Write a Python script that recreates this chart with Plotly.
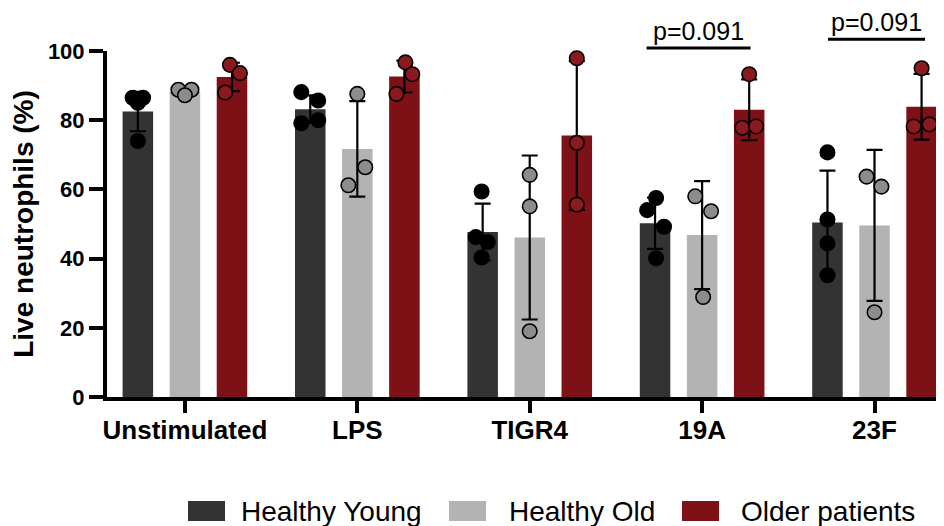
import plotly.graph_objects as go

# ---------------- data ----------------
categories = ["Unstimulated", "LPS", "TIGR4", "19A", "23F"]
group_names = ["Healthy Young", "Healthy Old", "Older patients"]

young_mean = [82.5, 83.2, 47.7, 50.2, 50.4]
young_sd = [5.7, 4.0, 8.2, 7.4, 15.0]
old_mean = [88.2, 71.7, 46.1, 46.8, 49.6]
old_sd = [0.8, 13.8, 23.7, 15.6, 21.8]
patients_mean = [92.5, 92.6, 75.6, 83.0, 83.9]
patients_sd = [4.1, 4.6, 21.5, 8.8, 9.5]

young_points = [[86.5, 86.5, 85.0, 74.0], [88.1, 85.7, 79.1, 80.0],
                [59.4, 46.2, 44.8, 40.3], [57.5, 54.0, 49.2, 40.1],
                [70.7, 51.3, 44.4, 35.2]]
old_points = [[88.8, 88.8, 87.2], [87.6, 66.4, 61.2], [64.2, 55.1, 19.0],
              [58.0, 53.7, 28.9], [63.7, 60.8, 24.5]]
patients_points = [[96.0, 93.6, 88.0], [96.7, 93.3, 87.6], [97.9, 73.5, 55.6],
                   [93.3, 77.8, 78.2], [95.0, 78.2, 78.8]]

p_labels = ["p=0.091", "p=0.091"]
p_categories = ["19A", "23F"]
p_levels = [100.9, 103.4]

y_range = [0, 100]
y_ticks = [0, 20, 40, 60, 80, 100]

# ---------------- style ----------------
FONT = "Liberation Sans"
bar_colors = ["#333333", "#b3b3b3", "#7e1116"]
point_colors = ["#000000", "#8c8c8c", "#8a1a1f"]
group_offset = [-0.273, 0.0, 0.273]
bar_width = 0.177
# horizontal spread of the dots (category units)
jitter = [
    [[-0.03, 0.03, 0.0, 0.0], [-0.052, 0.046, -0.052, 0.046], [-0.006, -0.04, 0.029, -0.006],
     [0.006, -0.046, 0.052, 0.006], [0.0, 0.0, 0.0, 0.0]],
    [[-0.038, 0.038, 0.0], [0.0, 0.046, -0.052], [0.0, 0.0, 0.0],
     [-0.04, 0.052, 0.006], [-0.046, 0.04, 0.0]],
    [[-0.012, 0.046, -0.04], [0.006, 0.046, -0.046], [0.0, 0.0, 0.0],
     [0.0, -0.04, 0.04], [0.0, -0.046, 0.046]],
]
bracket_span = [(-0.322, 0.281), (-0.270, 0.293)]

# the page adds an 8px body margin; size the figure so it lands like the reference
PAGE = 8
W, H = 944 - PAGE, 526 - PAGE
ML, MR, MT, MB = 107 - PAGE, 0, 51 - PAGE, 129

means = [young_mean, old_mean, patients_mean]
sds = [young_sd, old_sd, patients_sd]
points = [young_points, old_points, patients_points]
cat_index = {c: i for i, c in enumerate(categories)}

fig = go.Figure()

for g in range(3):
    fig.add_trace(go.Bar(
        x=[i + group_offset[g] for i in range(len(categories))],
        y=means[g],
        width=bar_width,
        name=group_names[g],
        marker=dict(color=bar_colors[g], line=dict(width=0)),
        error_y=dict(type="data", array=sds[g], visible=True,
                     color="black", thickness=2.2, width=8),
        showlegend=False,
    ))

for g in range(3):
    xs, ys = [], []
    for i, pts in enumerate(points[g]):
        for k, v in enumerate(pts):
            xs.append(i + group_offset[g] + jitter[g][i][k])
            ys.append(v)
    fig.add_trace(go.Scatter(
        x=xs, y=ys, mode="markers", name=group_names[g],
        marker=dict(size=14.5, color=point_colors[g],
                    line=dict(color="black", width=1.6)),
        cliponaxis=False, showlegend=False, hoverinfo="y",
    ))


def y_dom(v):
    return (v - y_range[0]) / (y_range[1] - y_range[0])


annotations = []
shapes = []
for lab, cat, lev, (l, r) in zip(p_labels, p_categories, p_levels, bracket_span):
    i = cat_index[cat]
    shapes.append(dict(
        type="line", xref="x", yref="y domain",
        x0=i + l, x1=i + r, y0=y_dom(lev), y1=y_dom(lev),
        line=dict(color="black", width=3),
    ))
    annotations.append(dict(
        x=i + (l + r) / 2, y=y_dom(lev), xref="x", yref="y domain",
        text=lab, showarrow=False, yanchor="bottom", yshift=1,
        font=dict(family=FONT, size=25, color="black"),
    ))

# custom legend (wide swatches like the reference), positions in reference pixels
pw = W - ML - MR
ph = H - MT - MB


def px_x(px):
    return (px - PAGE - ML) / pw


def px_y(py):
    return (H - MB - (py - PAGE)) / ph


legend_swatch_x = [188, 449, 682]
legend_text_x = [239, 507, 739]
for g in range(3):
    shapes.append(dict(
        type="rect", xref="paper", yref="paper",
        x0=px_x(legend_swatch_x[g]), x1=px_x(legend_swatch_x[g] + 37),
        y0=px_y(521), y1=px_y(501),
        fillcolor=bar_colors[g], line=dict(width=0),
    ))
    annotations.append(dict(
        x=px_x(legend_text_x[g]), y=px_y(511), xref="paper", yref="paper",
        text=group_names[g], showarrow=False, xanchor="left", yanchor="middle",
        font=dict(family=FONT, size=28, color="black"),
    ))

fig.update_layout(
    width=W, height=H,
    margin=dict(l=ML, r=MR, t=MT, b=MB),
    paper_bgcolor="white", plot_bgcolor="white",
    barmode="overlay",
    font=dict(family=FONT, color="black"),
    shapes=shapes,
    annotations=annotations,
    xaxis=dict(
        range=[-0.452, 4.403],
        tickvals=list(range(len(categories))), ticktext=categories,
        showline=True, linecolor="black", linewidth=4,
        ticks="outside", ticklen=12, tickwidth=4, tickcolor="black",
        ticklabelstandoff=-5,
        tickfont=dict(family=FONT, size=26, color="black", weight="bold"),
        showgrid=False, zeroline=False, automargin=False,
    ),
    yaxis=dict(
        range=y_range, tickvals=y_ticks,
        showline=True, linecolor="black", linewidth=4,
        ticks="outside", ticklen=14, tickwidth=4, tickcolor="black",
        tickfont=dict(family=FONT, size=22, color="black", weight="bold"),
        showgrid=False, zeroline=False, automargin=False,
        title=dict(text="Live neutrophils (%)", standoff=10,
                   font=dict(family=FONT, size=28, color="black", weight="bold")),
    ),
)

fig.write_html("out.html")
